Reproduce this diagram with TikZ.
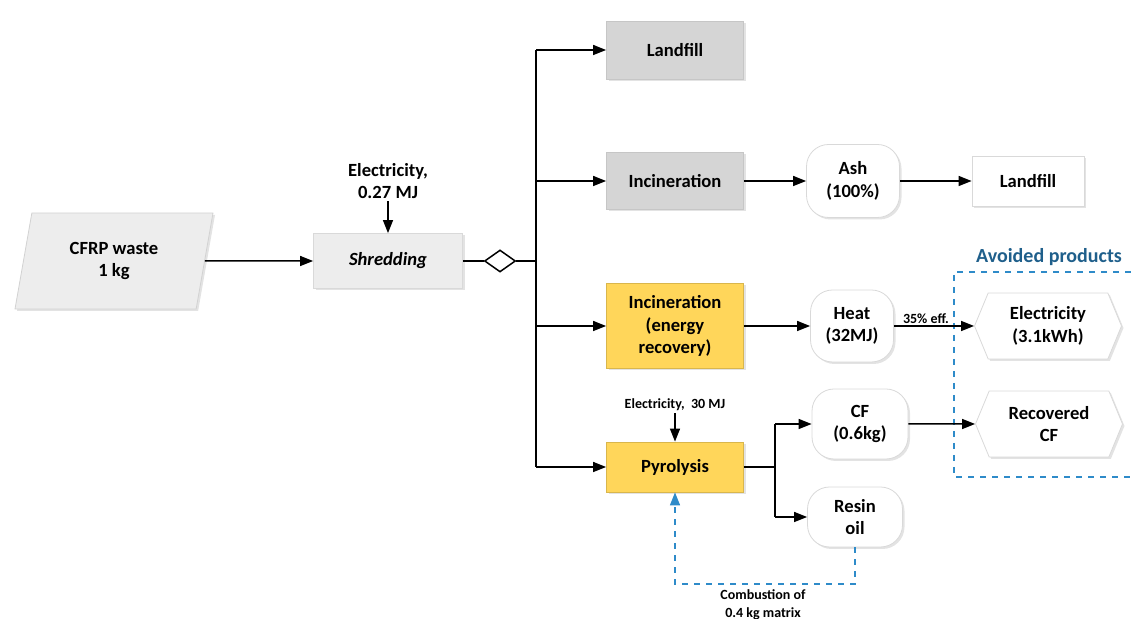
\documentclass[tikz,border=0pt]{standalone}
\usepackage{fontspec}
\setmainfont{Carlito}
\usetikzlibrary{arrows.meta,shapes.geometric,shapes.symbols,shadows}

\definecolor{wastegray}{HTML}{EDEDED}
\definecolor{routegray}{HTML}{D5D5D5}
\definecolor{procyellow}{HTML}{FFD65A}
\definecolor{dashblue}{HTML}{2E8BC9}
\definecolor{titleblue}{HTML}{1F5F8B}

\begin{document}
\begin{tikzpicture}[x=0.5pt,y=-0.5pt]
        \tikzstyle{every node}=[font=\fontsize{9.3}{11.2}\selectfont\bfseries, align=center, inner sep=1pt]
        \tikzstyle{softshadow}=[drop shadow={opacity=0.22, shadow xshift=1pt, shadow yshift=-1pt}]
        \tikzstyle{route}=[draw=gray!45, fill=routegray, minimum width=68.5pt, softshadow]
        \tikzstyle{energy}=[route, draw=procyellow!85!black, fill=procyellow]
        \tikzstyle{output}=[draw=gray!30, fill=white, rounded corners=11pt, softshadow]
        \tikzstyle{avoided}=[signal, signal to=east and west, signal pointer angle=135, draw=gray!30, fill=white, minimum width=73.5pt, minimum height=33pt, softshadow]
        \tikzstyle{small}=[font=\fontsize{7}{8.8}\selectfont\bfseries]
        \tikzstyle{arr}=[-{Triangle[length=6.5pt,width=5pt]}, line width=0.75pt]
        \tikzstyle{bus}=[line width=1.2pt]
        \tikzstyle{feed}=[dashed, draw=dashblue, line width=0.75pt]

        \useasboundingbox (0,0) rectangle (1131,619);

        \node   (waste)     [trapezium, trapezium left angle=68, trapezium right angle=112, trapezium stretches body,
                             minimum width=99pt, minimum height=48pt, draw=gray!35, fill=wastegray, softshadow] at (114,261) {CFRP waste\\1 kg};
        \node   (elecA)     at (388,181) {Electricity,\\0.27 MJ};
        \node   (shred)     [route, fill=wastegray, draw=gray!30, minimum width=74.5pt, minimum height=27.5pt,
                             font=\fontsize{9.3}{11.2}\selectfont\bfseries\itshape] at (388,261) {Shredding};
        \node   (split)     [diamond, draw, fill=white, line width=0.75pt, minimum width=15.5pt, minimum height=11pt, inner sep=0pt] at (500,261) {};
        \coordinate (bus)   at (536,261);

        \node   (landfill)  [route, minimum height=29pt] at (675,50) {Landfill};
        \node   (incin)     [route, minimum height=28.5pt] at (675,181) {Incineration};
        \node   (incer)     [energy, minimum height=42.5pt] at (675,326) {Incineration\\(energy\\recovery)};
        \node   (elecB)     [small] at (675,405) {Electricity,~~30 MJ};
        \node   (pyro)      [energy, minimum height=25pt] at (675,467) {Pyrolysis};
        \coordinate (fork)  at (775,467);

        \node   (ash)       [output, minimum width=46.5pt, minimum height=36.5pt] at (853,181) {Ash\\(100\%)};
        \node   (landfillB) [draw=gray!30, fill=white, softshadow, minimum width=56pt, minimum height=25pt] at (1028,181) {Landfill};
        \node   (heat)      [output, minimum width=41.5pt, minimum height=36pt] at (852,326) {Heat\\(32MJ)};
        \node   (cf)        [output, minimum width=48pt, minimum height=35pt] at (860,424) {CF\\(0.6kg)};
        \node   (resin)     [output, minimum width=47.5pt, minimum height=30pt] at (855,517) {Resin\\oil};

        \node   (elecav)    [avoided] at (1048,326) {Electricity\\(3.1kWh)};
        \node   (reccf)     [avoided] at (1049,424) {Recovered\\CF};
        \node   (avoidtitle) [font=\fontsize{10}{12}\selectfont\bfseries, text=titleblue] at (1049,257) {Avoided products};
        \draw[feed] (1131,272) -- (954,272) -- (954,477) -- (1131,477);

        \node   (combust)   [small] at (763,605) {Combustion of\\0.4 kg matrix};
        \coordinate (loop)  at (675,584);

        \draw[arr] (waste) -- (shred);
        \draw[arr] (elecA) -- (shred);
        \draw[bus] (shred) -- (split);
        \draw[bus] (split) -- (bus);
        \draw[bus] (landfill -| bus) -- (pyro -| bus);
        \draw[arr] (landfill -| bus) -- (landfill);
        \draw[arr] (incin -| bus) -- (incin);
        \draw[arr] (incer -| bus) -- (incer);
        \draw[arr] (pyro -| bus) -- (pyro);

        \draw[arr] (incin) -- (ash);
        \draw[arr] (ash) -- (landfillB);
        \draw[arr] (incer) -- (heat);
        \draw[arr] (heat) -- node[small, above, pos=0.4] {35\% eff.} (elecav);
        \draw[arr] (elecB) -- (pyro);

        \draw[bus] (pyro) -- (fork);
        \draw[line width=0.75pt] (cf -| fork) -- (resin -| fork);
        \draw[arr] (cf -| fork) -- (cf);
        \draw[arr] (resin -| fork) -- (resin);
        \draw[arr] (cf) -- (reccf);

        \draw[feed, -{Triangle[length=6.5pt,width=5pt]}] (resin.south) |- (loop) -- (pyro.south);
\end{tikzpicture}
\end{document}
